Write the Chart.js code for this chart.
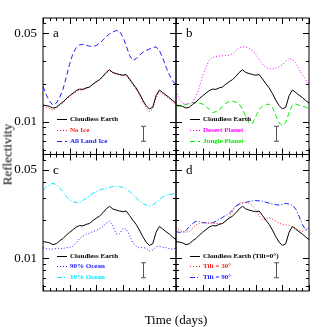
<!DOCTYPE html>
<html>
<head>
<meta charset="utf-8">
<script src="https://cdn.jsdelivr.net/npm/chart.js@4.4.0/dist/chart.umd.min.js"></script>
<style>
  body { margin: 0; background: #fff; }
  #wrap { position: relative; width: 327px; height: 327px; overflow: hidden; }
  canvas { position: absolute; left: 0; top: 0; }
  .lbl { position: absolute; font: 13px "Liberation Serif", serif; color: #000; text-align: center; line-height: 13px; white-space: nowrap; }
</style>
</head>
<body>
<div id="wrap">
  <canvas id="pa" width="327" height="327"></canvas>
  <canvas id="pb" width="327" height="327"></canvas>
  <canvas id="pc" width="327" height="327"></canvas>
  <canvas id="pd" width="327" height="327"></canvas>
  <div class="lbl" style="left:-43px;top:148px;width:100px;transform:rotate(-90deg);">Reflectivity</div>
  <div class="lbl" style="left:126px;top:313px;width:100px;">Time (days)</div>
</div>
<script>
// time in days, 0.025 step
const days = [0, 0.025, 0.05, 0.075, 0.1, 0.125, 0.15, 0.175, 0.2, 0.225, 0.25, 0.275, 0.3, 0.325, 0.35, 0.375, 0.4,
    0.425, 0.45, 0.475, 0.5, 0.525, 0.55, 0.575, 0.6, 0.625, 0.65, 0.675, 0.7, 0.725, 0.75, 0.775, 0.8, 0.825, 0.85, 0.875,
    0.9, 0.925, 0.95, 0.975, 1];

const cloudless = [0.0135, 0.0134, 0.0132, 0.0128, 0.0130, 0.0137, 0.0143, 0.0152, 0.0160, 0.0168, 0.0176, 0.0181, 0.0180,
    0.0185, 0.0188, 0.0198, 0.0207, 0.0215, 0.0228, 0.0245, 0.0257, 0.0245, 0.0240, 0.0236, 0.0233, 0.0236, 0.0218, 0.0200,
    0.0185, 0.0167, 0.0148, 0.0134, 0.0126, 0.0130, 0.0160, 0.0178, 0.0170, 0.0162, 0.0155, 0.0147, 0.0140];
const noIce = [0.0132, 0.0130, 0.0127, 0.0124, 0.0127, 0.0134, 0.0140, 0.0150, 0.0158, 0.0165, 0.0172, 0.0178, 0.0178,
    0.0182, 0.0186, 0.0196, 0.0205, 0.0213, 0.0226, 0.0242, 0.0253, 0.0242, 0.0237, 0.0234, 0.0231, 0.0233, 0.0214, 0.0196,
    0.0180, 0.0162, 0.0143, 0.0128, 0.0120, 0.0125, 0.0154, 0.0172, 0.0166, 0.0158, 0.0151, 0.0143, 0.0136];
const landIce = [0.0190, 0.0162, 0.0145, 0.0135, 0.0140, 0.0155, 0.0180, 0.0225, 0.0285, 0.0345, 0.0385, 0.0405, 0.0408,
    0.0402, 0.0395, 0.0392, 0.0400, 0.0415, 0.0440, 0.0470, 0.0495, 0.0512, 0.0525, 0.0520, 0.0470, 0.0400, 0.0335, 0.0305,
    0.0315, 0.0335, 0.0352, 0.0365, 0.0375, 0.0385, 0.0390, 0.0365, 0.0320, 0.0270, 0.0235, 0.0210, 0.0195];
const desert = [0.0175, 0.0150, 0.0140, 0.0138, 0.0138, 0.0142, 0.0158, 0.0185, 0.0230, 0.0270, 0.0305, 0.0322, 0.0328,
    0.0330, 0.0332, 0.0333, 0.0335, 0.0345, 0.0365, 0.0385, 0.0390, 0.0388, 0.0380, 0.0365, 0.0340, 0.0310, 0.0285, 0.0268,
    0.0262, 0.0260, 0.0265, 0.0272, 0.0282, 0.0300, 0.0315, 0.0312, 0.0290, 0.0260, 0.0235, 0.0215, 0.0200];
const jungle = [0.0132, 0.0133, 0.0135, 0.0136, 0.0140, 0.0142, 0.0141, 0.0140, 0.0138, 0.0132, 0.0125, 0.0118, 0.0120,
    0.0124, 0.0133, 0.0140, 0.0144, 0.0145, 0.0143, 0.0138, 0.0125, 0.0110, 0.0097, 0.0097, 0.0110, 0.0125, 0.0132, 0.0135,
    0.0138, 0.0130, 0.0112, 0.0098, 0.0093, 0.0098, 0.0118, 0.0135, 0.0138, 0.0135, 0.0133, 0.0130, 0.0127];
const ocean90 = [0.0121, 0.0119, 0.0118, 0.0118, 0.0119, 0.0120, 0.0119, 0.0121, 0.0122, 0.0124, 0.0132, 0.0143, 0.0149,
    0.0154, 0.0158, 0.0162, 0.0166, 0.0171, 0.0178, 0.0188, 0.0197, 0.0180, 0.0156, 0.0155, 0.0172, 0.0170, 0.0152, 0.0133,
    0.0124, 0.0121, 0.0121, 0.0120, 0.0114, 0.0116, 0.0123, 0.0124, 0.0122, 0.0121, 0.0119, 0.0118, 0.0120];
const ocean10 = [0.0344, 0.0365, 0.0382, 0.0390, 0.0382, 0.0360, 0.0335, 0.0308, 0.0290, 0.0280, 0.0275, 0.0276, 0.0285,
    0.0298, 0.0312, 0.0325, 0.0336, 0.0345, 0.0352, 0.0358, 0.0362, 0.0368, 0.0370, 0.0368, 0.0362, 0.0352, 0.0338, 0.0320,
    0.0300, 0.0283, 0.0272, 0.0263, 0.0260, 0.0263, 0.0275, 0.0290, 0.0305, 0.0315, 0.0318, 0.0322, 0.0326];
const tilt30 = [0.0174, 0.0166, 0.0162, 0.0160, 0.0163, 0.0172, 0.0183, 0.0188, 0.0190, 0.0190, 0.0189, 0.0188, 0.0188,
    0.0187, 0.0188, 0.0195, 0.0212, 0.0235, 0.0260, 0.0272, 0.0275, 0.0276, 0.0272, 0.0260, 0.0242, 0.0215, 0.0200, 0.0205,
    0.0209, 0.0203, 0.0196, 0.0190, 0.0184, 0.0183, 0.0182, 0.0178, 0.0172, 0.0165, 0.0163, 0.0168, 0.0174];
const tilt90 = [0.0162, 0.0160, 0.0160, 0.0165, 0.0178, 0.0188, 0.0196, 0.0195, 0.0191, 0.0190, 0.0190, 0.0191, 0.0195,
    0.0203, 0.0210, 0.0218, 0.0226, 0.0240, 0.0258, 0.0267, 0.0272, 0.0276, 0.0281, 0.0284, 0.0285, 0.0284, 0.0282, 0.0277,
    0.0272, 0.0268, 0.0265, 0.0263, 0.0266, 0.0271, 0.0268, 0.0262, 0.0245, 0.0215, 0.0185, 0.0167, 0.0168];

// typical error bar (same in every panel)
const errT = 0.754;
const errLo = 0.0070;
const errHi = 0.0092;

const yLabelTicks = [0.01, 0.05];
const yMinorTicks = [0.006, 0.007, 0.008, 0.009, 0.02, 0.03, 0.04, 0.06];
const xMinorTicks = [0.05, 0.1, 0.15, 0.25, 0.3, 0.35, 0.45, 0.5, 0.55, 0.65, 0.7, 0.75, 0.85, 0.9, 0.95];
const xMajorTicks = [0, 0.2, 0.4, 0.6, 0.8, 1];

const SOLID = [];
const DOT = [1, 2];
const DASH = [5, 3];
const DASHDOT = [5, 2, 1, 2];

const FONT = '"Liberation Serif", serif';

const frame = {
    id: 'frame',
    afterDatasetsDraw(chart, args, o) {
        const ctx = chart.ctx, a = chart.chartArea;
        const xs = chart.scales.x, ys = chart.scales.y;
        ctx.save();
        ctx.strokeStyle = '#000';
        ctx.lineWidth = 1;
        ctx.strokeRect(a.left, a.top, a.right - a.left, a.bottom - a.top);
        ctx.beginPath();
        const xt = (v, len) => {
            const px = Math.round(xs.getPixelForValue(v)) + 0.5;
            ctx.moveTo(px, a.bottom); ctx.lineTo(px, a.bottom - len);
            ctx.moveTo(px, a.top); ctx.lineTo(px, a.top + len);
        };
        const yt = (v, len) => {
            const py = Math.round(ys.getPixelForValue(v)) + 0.5;
            ctx.moveTo(a.left, py); ctx.lineTo(a.left + len, py);
            ctx.moveTo(a.right, py); ctx.lineTo(a.right - len, py);
        };
        xMinorTicks.forEach(v => xt(v, 3));
        xMajorTicks.forEach(v => xt(v, 6));
        yMinorTicks.forEach(v => yt(v, 3));
        yLabelTicks.forEach(v => yt(v, 6));
        ctx.stroke();

        // error bar
        const ex = Math.round(xs.getPixelForValue(errT)) + 0.5;
        const e1 = ys.getPixelForValue(errLo), e2 = ys.getPixelForValue(errHi);
        ctx.strokeStyle = '#555';
        ctx.beginPath();
        ctx.moveTo(ex, e1); ctx.lineTo(ex, e2);
        ctx.moveTo(ex - 2.5, e1); ctx.lineTo(ex + 2.5, e1);
        ctx.moveTo(ex - 2.5, e2); ctx.lineTo(ex + 2.5, e2);
        ctx.stroke();

        // panel letter
        ctx.fillStyle = '#000';
        ctx.font = '13px ' + FONT;
        ctx.textBaseline = 'middle';
        ctx.fillText(o.letter, a.left + 10, a.top + 16);

        // legend
        ctx.font = 'bold 7px ' + FONT;
        chart.data.datasets.forEach((ds, i) => {
            const y = Math.round(a.top + 101 + i * 10.8) + 0.5;
            ctx.strokeStyle = ds.borderColor;
            ctx.setLineDash(ds.borderDash);
            ctx.beginPath();
            ctx.moveTo(a.left + 14, y); ctx.lineTo(a.left + 24, y);
            ctx.stroke();
            ctx.setLineDash([]);
            ctx.fillStyle = ds.borderColor;
            ctx.fillText(ds.label, a.left + 27, y);
        });
        ctx.restore();
    }
};

function series(label, vals, color, dash) {
    return {
        label: label,
        data: days.map((t, i) => ({ x: t, y: vals[i] })),
        borderColor: color,
        borderDash: dash,
        borderWidth: 1,
        pointRadius: 0,
        tension: 0,
        fill: false,
    };
}

function panel(id, letter, box, sets, showY, xLabels) {
    const ctx = document.getElementById(id).getContext('2d');
    return new Chart(ctx, {
        type: 'line',
        data: { datasets: sets },
        options: {
            responsive: false,
            animation: false,
            layout: { padding: { left: 0, top: box.top, right: 327 - box.right, bottom: 327 - box.bottom } },
            plugins: { legend: { display: false }, tooltip: { enabled: false }, frame: { letter: letter } },
            scales: {
                x: {
                    type: 'linear', min: 0, max: 1,
                    grid: { display: false, drawTicks: false },
                    border: { display: false },
                    afterFit: s => { s.height = 0; },
                    afterBuildTicks: s => { s.ticks = (xLabels || []).map(v => ({ value: v })); },
                    ticks: {
                        display: !!xLabels, padding: 4, autoSkip: false, maxRotation: 0,
                        color: '#000', font: { family: FONT, size: 13 },
                        callback: v => String(Math.round(v * 10) / 10),
                    },
                },
                y: {
                    type: 'logarithmic', min: 0.0055, max: 0.066,
                    grid: { display: false, drawTicks: false },
                    border: { display: false },
                    afterFit: s => { s.width = box.left; },
                    afterBuildTicks: s => { s.ticks = yLabelTicks.map(v => ({ value: v })); },
                    ticks: {
                        display: showY, padding: 6, autoSkip: false,
                        color: '#000', font: { family: FONT, size: 13 },
                        callback: v => String(v),
                    },
                },
            },
        },
        plugins: [frame],
    });
}

const L = { left: 43, right: 176 };
const R = { left: 176, right: 309 };
const TOP = 18, MID = 154.5, BOT = 291;

panel('pa', 'a', { left: L.left, right: L.right, top: TOP, bottom: MID }, [
    series('Cloudless Earth', cloudless, '#000000', SOLID),
    series('No Ice', noIce, '#ff2020', DOT),
    series('All Land Ice', landIce, '#2020ff', DASH),
], true, null);

panel('pb', 'b', { left: R.left, right: R.right, top: TOP, bottom: MID }, [
    series('Cloudless Earth', cloudless, '#000000', SOLID),
    series('Desert Planet', desert, '#ff00ff', DOT),
    series('Jungle Planet', jungle, '#00ee00', DASH),
], false, null);

panel('pc', 'c', { left: L.left, right: L.right, top: MID, bottom: BOT }, [
    series('Cloudless Earth', cloudless, '#000000', SOLID),
    series('90% Ocean', ocean90, '#2020ff', DOT),
    series('10% Ocean', ocean10, '#00e5ff', DASHDOT),
], true, [0, 0.2, 0.4, 0.6, 0.8]);

panel('pd', 'd', { left: R.left, right: R.right, top: MID, bottom: BOT }, [
    series('Cloudless Earth (Tilt=0\u00b0)', cloudless, '#000000', SOLID),
    series('Tilt = 30\u00b0', tilt30, '#ff2020', DOT),
    series('Tilt = 90\u00b0', tilt90, '#2020ff', DASHDOT),
], false, [0.2, 0.4, 0.6, 0.8, 1]);
</script>
</body>
</html>
